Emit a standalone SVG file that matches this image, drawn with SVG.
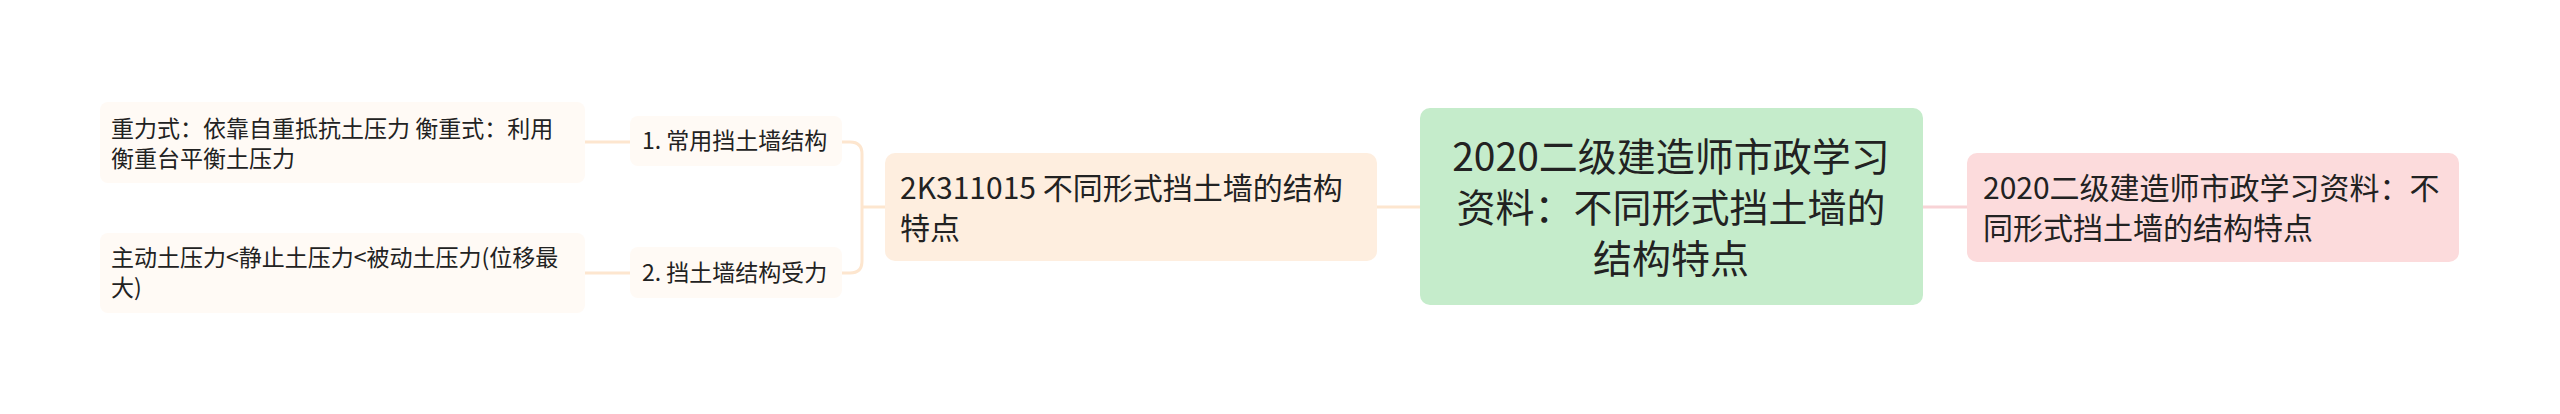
<svg xmlns="http://www.w3.org/2000/svg" width="2560" height="414" viewBox="0 0 2560 414">
<style>
text{font-family:"Noto Sans CJK SC","Noto Sans",sans-serif;fill:#222}
.c{font-size:39px;text-anchor:middle}
.m{font-size:30px}
.s{font-size:23px}
.con{fill:none;stroke-width:3}
.l{stroke:#fde6cf}
.r{stroke:#f8d3d6}
</style>
<rect width="2560" height="414" fill="#ffffff"/>
<g id="connectors">
<path class="con r" d="M1923,207 H1967"/>
<path class="con l" d="M1377,207 H1420"/>
<path class="con l" d="M885,207 H862"/>
<path class="con l" d="M842,142 H850 Q862,142 862,154 V261 Q862,273 850,273 H842"/>
<path class="con l" d="M585,142 H630"/>
<path class="con l" d="M585,273 H630"/>
</g>
<g id="root">
<rect x="1420" y="108" width="503" height="197" rx="10" fill="#c5eccb"/>
<text class="c" x="1671" y="171">2020二级建造师市政学习</text>
<text class="c" x="1671" y="222">资料：不同形式挡土墙的</text>
<text class="c" x="1671" y="273">结构特点</text>
</g>
<g id="right">
<rect x="1967" y="153" width="492" height="109" rx="10" fill="#fcdbdc"/>
<text class="m" x="1983" y="199">2020二级建造师市政学习资料：不</text>
<text class="m" x="1983" y="239">同形式挡土墙的结构特点</text>
</g>
<g id="topic">
<rect x="885" y="153" width="492" height="108" rx="10" fill="#feeedf"/>
<text class="m" x="900" y="199">2K311015 不同形式挡土墙的结构</text>
<text class="m" x="900" y="239">特点</text>
</g>
<g id="sub1">
<rect x="630" y="116" width="212" height="50" rx="8" fill="#fffaf5"/>
<text class="s" x="642" y="149">1. 常用挡土墙结构</text>
</g>
<g id="sub2">
<rect x="630" y="247" width="212" height="51" rx="8" fill="#fffaf5"/>
<text class="s" x="642" y="281">2. 挡土墙结构受力</text>
</g>
<g id="leaf1">
<rect x="100" y="102" width="485" height="81" rx="8" fill="#fffaf5"/>
<text class="s" x="111" y="137">重力式：依靠自重抵抗土压力 衡重式：利用</text>
<text class="s" x="111" y="167">衡重台平衡土压力</text>
</g>
<g id="leaf2">
<rect x="100" y="233" width="485" height="80" rx="8" fill="#fffaf5"/>
<text class="s" x="111" y="266">主动土压力&lt;静止土压力&lt;被动土压力(位移最</text>
<text class="s" x="111" y="296">大)</text>
</g>
</svg>
